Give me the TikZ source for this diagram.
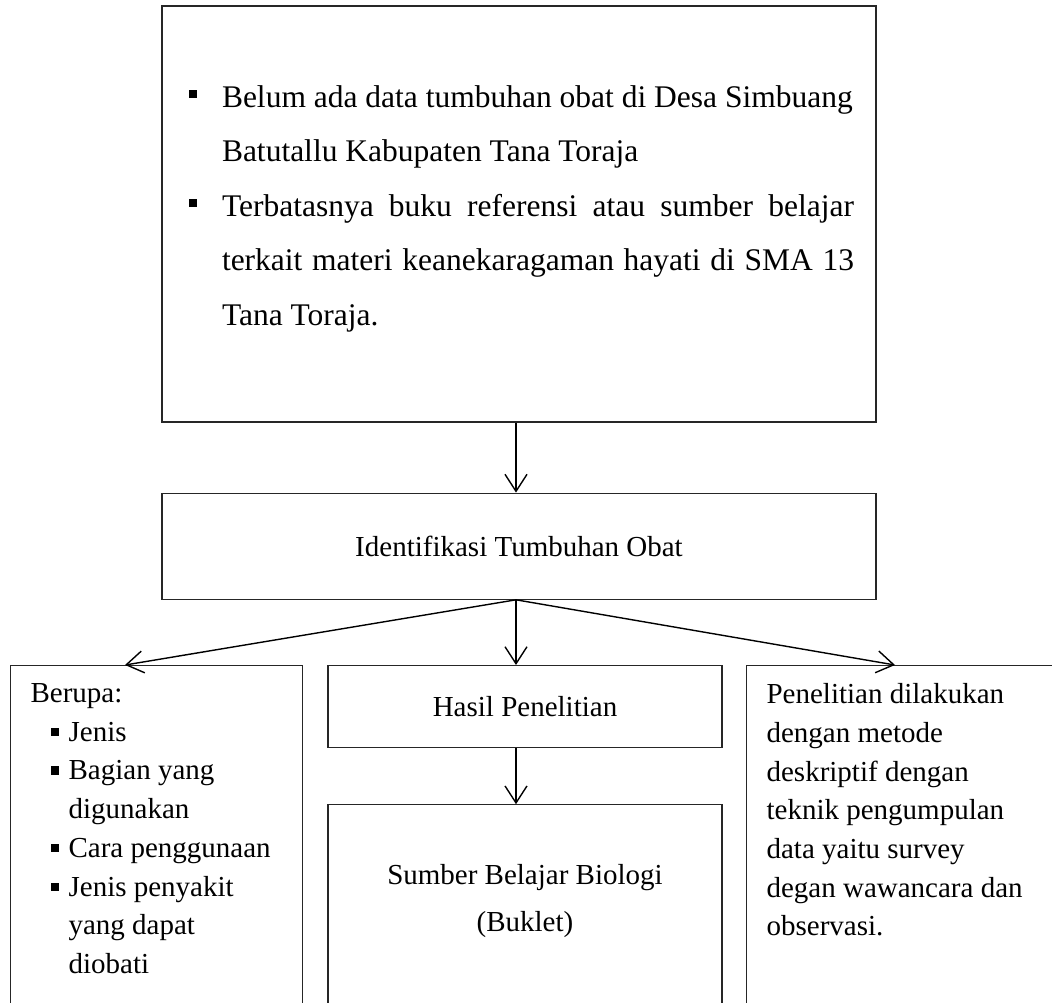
\documentclass[tikz,border=0pt]{standalone}
\usepackage{fontspec}
\setmainfont{Liberation Serif}
\usetikzlibrary{arrows.meta, positioning, calc}

\newcommand{\butiratas}{\par\noindent\hangindent=38pt\hangafter=1\makebox[38pt][l]{\hspace{5pt}\rule[9pt]{8pt}{8pt}}}
\newcommand{\butirbawah}{\par\noindent\hangindent=38pt\hangafter=1\makebox[38pt][l]{\hspace{20pt}\rule[5pt]{8.5pt}{8.5pt}}}

\begin{document}
\begin{tikzpicture}[x=1pt, y=-1pt,
			kotak/.style = {draw=black!85, line width=1.2pt, rectangle, inner sep=0pt},
			teks/.style = {font=\fontsize{29}{38.7}\selectfont},
			panah/.style = {-{Straight Barb[length=17pt, width=22pt]}, line width=1.4pt}]
			\useasboundingbox (0,0) rectangle (1052,1003);
			\clip (0,0) rectangle (1052,1003);
			\coordinate (poros) at (516,0);
			\node (masalah) [kotak, inner xsep=22pt, inner ysep=79.5pt,
			font=\fontsize{31.5}{54.5}\selectfont] at (519,214)
			{\parbox[t][257pt][t]{670pt}{\setlength{\parindent}{0pt}%
					\butiratas Belum ada data tumbuhan obat di Desa Simbuang\\Batutallu Kabupaten Tana Toraja
					\butiratas Terbatasnya buku referensi atau sumber belajar\linebreak terkait materi keanekaragaman hayati di SMA 13\linebreak Tana Toraja.}};
			\node (identifikasi) [kotak, teks, below=70pt of masalah,
			minimum width=714pt, minimum height=106pt] {Identifikasi Tumbuhan Obat};
			\node (berupa) [kotak, teks, anchor=north west, inner xsep=20pt, inner ysep=18pt] at (10,665)
			{\parbox[t][400pt][t]{252pt}{\setlength{\parindent}{0pt}Berupa:%
					\butirbawah Jenis
					\butirbawah Bagian yang\\digunakan
					\butirbawah Cara penggunaan
					\butirbawah Jenis penyakit\\yang dapat\\diobati}};
			\node (hasil) [kotak, teks, anchor=north, minimum width=394pt, minimum height=82pt] at (525,665)
			{Hasil Penelitian};
			\node (sumber) [kotak, below=56pt of hasil, inner ysep=60pt,
			font=\fontsize{29}{47}\selectfont]
			{\parbox[t][260pt][t]{394pt}{\centering Sumber Belajar Biologi\\(Buklet)}};
			\node (metode) [kotak, teks, anchor=north west, inner xsep=20pt, inner ysep=18pt] at (746,665)
			{\parbox[t][400pt][t]{330pt}{\raggedright Penelitian dilakukan\\dengan metode\\deskriptif dengan\\teknik pengumpulan\\data yaitu survey\\degan wawancara dan\\observasi.}};
			\path [panah]
			(masalah.south -| poros) edge (identifikasi.north -| poros)
			(identifikasi.south -| poros) edge (hasil.north -| poros)
			(hasil.south -| poros) edge (sumber.north -| poros)
			(identifikasi.south -| poros) edge ($(berupa.north west)+(115,0)$)
			(identifikasi.south -| poros) edge ($(metode.north west)+(149,0)$);
		\end{tikzpicture}
\end{document}
